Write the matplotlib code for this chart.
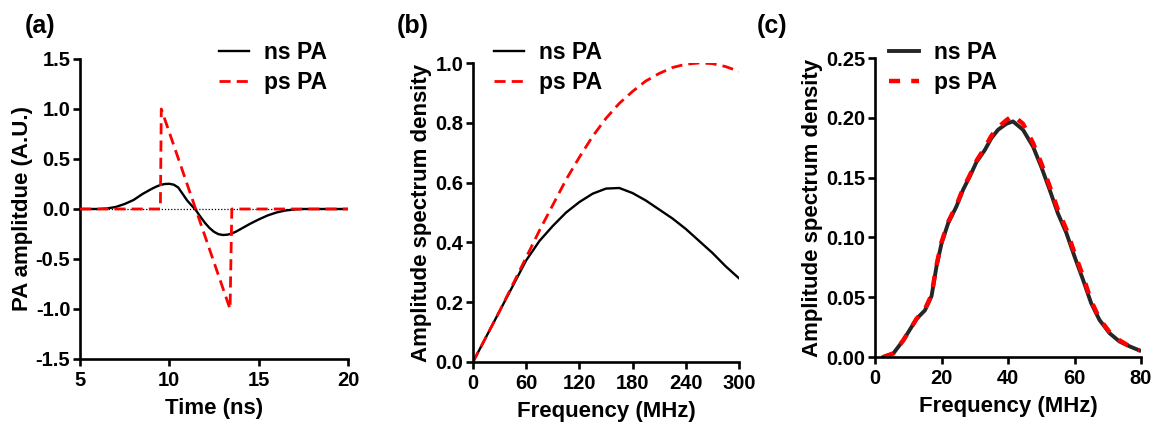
import numpy as np
import matplotlib
matplotlib.use('Agg')
import matplotlib.pyplot as plt

plt.rcParams['font.family'] = ['Liberation Sans', 'DejaVu Sans']
plt.rcParams['font.weight'] = 'bold'

# (a) time-domain PA signals
time_ns = [5, 6, 6.5, 7, 7.5, 8, 8.5, 9, 9.25, 9.5, 9.75, 10, 10.25, 10.5, 10.75,
           11, 11.25, 11.5, 11.75, 12, 12.25, 12.5, 12.75, 13, 13.25, 13.5, 13.75,
           14, 14.5, 15, 15.5, 16, 16.5, 17, 17.5, 20]
ns_time = [0, 0, 0.005, 0.02, 0.05, 0.09, 0.15, 0.2, 0.222, 0.24, 0.25, 0.252,
           0.243, 0.215, 0.15, 0.085, 0.035, -0.015, -0.08, -0.14, -0.19, -0.228,
           -0.252, -0.26, -0.257, -0.245, -0.225, -0.2, -0.15, -0.105, -0.065,
           -0.035, -0.015, -0.005, 0, 0]
time_ps = [5, 9.5, 9.55, 13.4, 13.5, 20]
ps_time = [0, 0, 1.0, -1.0, 0, 0]

# (b) spectra 0-300 MHz
freq_b = [0, 15, 30, 45, 60, 75, 90, 105, 120, 135, 150, 165, 180, 195, 210,
          225, 240, 255, 270, 285, 300]
ns_b = [0, 0.085, 0.17, 0.255, 0.34, 0.405, 0.455, 0.5, 0.535, 0.563, 0.58,
        0.582, 0.565, 0.54, 0.51, 0.48, 0.445, 0.405, 0.365, 0.32, 0.28]
ps_b = [0, 0.085, 0.17, 0.26, 0.35, 0.44, 0.525, 0.61, 0.685, 0.755, 0.815,
        0.865, 0.905, 0.94, 0.965, 0.985, 0.996, 1.0, 0.998, 0.988, 0.972]

# (c) spectra 0-80 MHz
freq_c = [2.5, 5.5, 8.5, 12.5, 15, 17, 18.5, 20, 22, 24.5, 26.5, 28.5, 30.5, 33,
          35, 37, 39.5, 41.5, 44.5, 47.5, 50, 52.5, 55, 57.5, 60, 62.5, 65, 67.5,
          70.5, 73.5, 76.5, 79.5]
ns_c = [0.000, 0.003, 0.014, 0.032, 0.039, 0.051, 0.076, 0.095, 0.112, 0.126,
        0.140, 0.151, 0.163, 0.173, 0.183, 0.190, 0.195, 0.197, 0.190, 0.176,
        0.159, 0.140, 0.120, 0.104, 0.084, 0.065, 0.045, 0.031, 0.020, 0.013,
        0.009, 0.0055]
ps_c = [0.000, 0.003, 0.014, 0.032, 0.040, 0.052, 0.077, 0.096, 0.113, 0.127,
        0.141, 0.152, 0.164, 0.175, 0.185, 0.192, 0.198, 0.202, 0.195, 0.179,
        0.162, 0.143, 0.123, 0.107, 0.087, 0.068, 0.047, 0.032, 0.021, 0.014,
        0.009, 0.0055]

LABEL_FS = 16
TICK_FS = 14.5
LEG_FS = 16.5

fig = plt.figure(figsize=(11.61, 4.29), dpi=100)
ax_a = fig.add_axes([0.0689, 0.1632, 0.2308, 0.6993])
ax_b = fig.add_axes([0.4074, 0.1562, 0.2291, 0.6969])
ax_c = fig.add_axes([0.7537, 0.1678, 0.2291, 0.6970])

def style(ax):
    for s in ['top', 'right']:
        ax.spines[s].set_visible(False)
    for s in ['left', 'bottom']:
        ax.spines[s].set_linewidth(1.9)
    ax.tick_params(direction='out', length=5, width=1.9, labelsize=TICK_FS, pad=2)
    ax.tick_params(axis='x', pad=3.5)
    for lab in ax.get_xticklabels() + ax.get_yticklabels():
        lab.set_fontweight('bold')

# panel a
ax_a.axhline(0, color='black', lw=0.9, ls=(0, (1, 1.5)), zorder=1)
ax_a.plot(time_ns, ns_time, color='black', lw=1.7, label='ns PA', zorder=2)
ax_a.plot(time_ps, ps_time, color='red', lw=2.0, ls=(0, (4, 2.2)), label='ps PA', zorder=3)
ax_a.set_xlim(5, 20)
ax_a.set_ylim(-1.5, 1.5)
ax_a.set_xticks([5, 10, 15, 20])
ax_a.set_yticks([-1.5, -1.0, -0.5, 0.0, 0.5, 1.0, 1.5])
ax_a.set_yticklabels(['-1.5', '-1.0', '-0.5', '0.0', '0.5', '1.0', '1.5'])
ax_a.set_xlabel('Time (ns)', fontsize=LABEL_FS, fontweight='bold', labelpad=6)
ax_a.set_ylabel('PA amplitdue (A.U.)', fontsize=LABEL_FS, fontweight='bold', labelpad=2)
style(ax_a)

# panel b
ax_b.plot(freq_b, ns_b, color='black', lw=1.7, label='ns PA')
ax_b.plot(freq_b, ps_b, color='red', lw=2.0, ls=(0, (4, 2.2)), label='ps PA')
ax_b.set_xlim(0, 300)
ax_b.set_ylim(0, 1.0)
ax_b.set_xticks([0, 60, 120, 180, 240, 300])
ax_b.set_yticks([0.0, 0.2, 0.4, 0.6, 0.8, 1.0])
ax_b.set_yticklabels(['0.0', '0.2', '0.4', '0.6', '0.8', '1.0'])
ax_b.set_xlabel('Frequency (MHz)', fontsize=LABEL_FS, fontweight='bold', labelpad=6)
ax_b.set_ylabel('Amplitude spectrum density', fontsize=LABEL_FS, fontweight='bold', labelpad=2)
style(ax_b)

# panel c
ax_c.plot(freq_c, ns_c, color='black', lw=2.8, alpha=0.85, label='ns PA')
ax_c.plot(freq_c, ps_c, color='red', lw=3.2, ls=(0, (2.5, 2.5)), label='ps PA')
ax_c.set_xlim(0, 80)
ax_c.set_ylim(0, 0.25)
ax_c.set_xticks([0, 20, 40, 60, 80])
ax_c.set_yticks([0.0, 0.05, 0.10, 0.15, 0.20, 0.25])
ax_c.set_yticklabels(['0.00', '0.05', '0.10', '0.15', '0.20', '0.25'])
ax_c.set_xlabel('Frequency (MHz)', fontsize=LABEL_FS, fontweight='bold', labelpad=6)
ax_c.set_ylabel('Amplitude spectrum density', fontsize=LABEL_FS, fontweight='bold', labelpad=2)
style(ax_c)

# legends
for ax, x0 in [(ax_a, 0.1886), (ax_b, 0.4255), (ax_c, 0.7657)]:
    leg = ax.legend(loc='upper left', bbox_to_anchor=(x0, 0.905),
                    bbox_transform=fig.transFigure, frameon=False,
                    fontsize=LEG_FS, handlelength=1.3, handletextpad=0.65,
                    labelspacing=0.3, borderpad=0, borderaxespad=0)
    for t in leg.get_texts():
        t.set_fontweight('bold')

for lab, x in [('(a)', 0.0215), ('(b)', 0.342), ('(c)', 0.652)]:
    fig.text(x, 0.968, lab, fontsize=18, fontweight='bold', va='top', ha='left')

fig.savefig('out.png', dpi=100)
